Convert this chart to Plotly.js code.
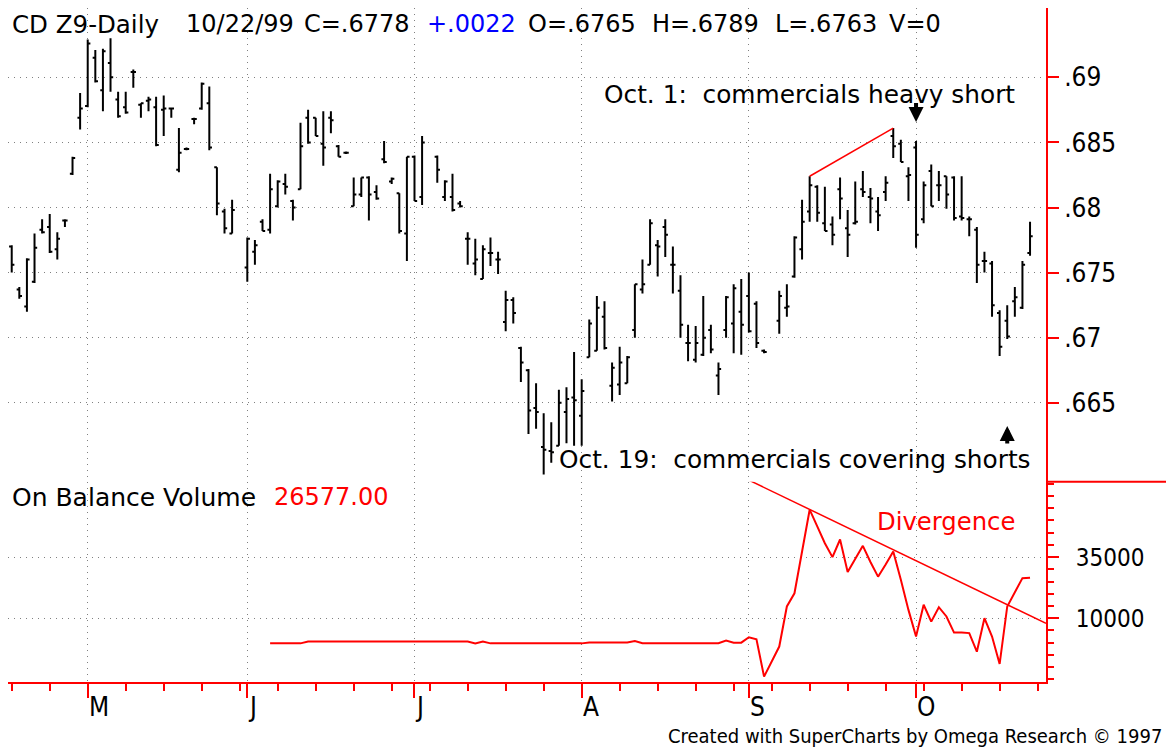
<!DOCTYPE html>
<html><head><meta charset="utf-8">
<script src="https://cdn.plot.ly/plotly-3.0.1.min.js"></script>
<style>html,body{margin:0;padding:0;background:#fff;overflow:hidden}#chart{width:1166px;height:749px}</style>
</head><body><div id="chart"></div>
<script>
// ---- data (one entry per weekday session slot, Apr 19 .. Oct 22 1999; null = holiday) ----
const openP = [.6770,.6737,.6724,.6743,.6783,.6785,.6768,.6790,.6826,.6869,
 .6878,.6915,.6890,.6911,.6883,.6877,.6904,.6879,.6882,.6877,
 .6875,.6876,.6829,.6845,.6868,.6876,.6880,.6831,.6797,.6780,
 null,.6754,.6766,.6789,.6783,.6801,.6818,.6805,.6814,.6869,
 .6869,.6849,.6869,.6847,.6842,.6801,.6810,.6823,.6812,.6837,
 .6820,.6811,.6780,.6839,.6808,null,.6839,.6808,.6808,.6803,
 .6776,.6757,.6745,.6765,.6760,.6712,.6729,.6692,.6675,.6646,
 .6616,.6613,.6617,.6643,.6654,.6640,.6685,.6690,.6716,.6663,
 .6664,.6665,.6706,.6737,.6756,.6771,.6785,.6756,.6736,.6696,
 .6683,.6687,.6706,.6671,.6706,.6711,.6720,.6732,.6726,.6690,
 null,.6713,.6723,.6747,.6768,.6797,.6816,.6788,.6787,.6814,
 .6784,.6788,.6814,.6808,.6797,.6812,.6855,.6849,.6824,.6846,
 .6791,.6828,.6817,.6824,.6823,.6793,.6791,.6783,.6759,.6757,
 .6719,.6713,.6728,.6723,.6765];
const highP = [.6771,.6739,.6761,.6780,.6791,.6795,.6781,.6791,.6839,.6888,
 .6929,.6921,.6922,.6930,.6889,.6889,.6906,.6880,.6885,.6885,
 .6886,.6876,.6861,.6846,.6869,.6896,.6893,.6831,.6799,.6806,
 null,.6777,.6775,.6791,.6826,.6821,.6826,.6806,.6865,.6875,
 .6869,.6874,.6874,.6848,.6843,.6823,.6823,.6824,.6817,.6851,
 .6823,.6811,.6839,.6840,.6855,null,.6840,.6821,.6826,.6805,
 .6781,.6776,.6771,.6777,.6766,.6736,.6731,.6693,.6676,.6665,
 .6642,.6635,.6660,.6662,.6689,.6668,.6714,.6732,.6728,.6681,
 .6693,.6686,.6741,.6760,.6791,.6775,.6791,.6770,.6748,.6710,
 .6709,.6732,.6710,.6681,.6732,.6741,.6745,.6750,.6728,.6691,
 null,.6736,.6741,.6778,.6806,.6824,.6817,.6816,.6793,.6823,
 .6798,.6820,.6828,.6815,.6808,.6824,.6861,.6852,.6831,.6851,
 .6820,.6833,.6828,.6824,.6824,.6824,.6793,.6785,.6766,.6759,
 .6721,.6725,.6739,.6759,.6789];
const lowP = [.6750,.6730,.6720,.6742,.6780,.6765,.6760,.6785,.6825,.6860,
 .6877,.6896,.6874,.6889,.6869,.6872,.6892,.6869,.6874,.6847,
 .6855,.6869,.6827,.6844,.6864,.6875,.6844,.6794,.6780,.6780,
 null,.6743,.6756,.6782,.6780,.6800,.6810,.6790,.6814,.6849,
 .6855,.6832,.6857,.6839,.6841,.6801,.6808,.6790,.6806,.6834,
 .6818,.6780,.6759,.6805,.6802,null,.6819,.6805,.6797,.6800,
 .6756,.6748,.6745,.6755,.6749,.6705,.6711,.6666,.6626,.6630,
 .6595,.6604,.6617,.6619,.6617,.6617,.6685,.6690,.6691,.6651,
 .6656,.6665,.6700,.6734,.6756,.6747,.6762,.6734,.6700,.6682,
 .6681,.6686,.6688,.6656,.6700,.6688,.6687,.6704,.6692,.6688,
 null,.6703,.6716,.6746,.6760,.6789,.6789,.6782,.6771,.6791,
 .6762,.6787,.6808,.6788,.6782,.6805,.6838,.6835,.6805,.6769,
 .6788,.6801,.6805,.6799,.6790,.6790,.6778,.6742,.6750,.6716,
 .6686,.6699,.6716,.6722,.6763];
const closeP = [.6756,.6732,.6760,.6769,.6781,.6766,.6776,.6790,.6838,.6876,
 .6926,.6897,.6920,.6900,.6870,.6873,.6904,.6880,.6883,.6848,
 .6876,.6876,.6842,.6845,.6868,.6895,.6846,.6803,.6784,.6798,
 null,.6776,.6771,.6782,.6814,.6820,.6816,.6800,.6847,.6850,
 .6855,.6846,.6867,.6839,.6842,.6810,.6823,.6810,.6807,.6835,
 .6822,.6782,.6839,.6805,.6850,null,.6829,.6820,.6798,.6801,
 .6776,.6760,.6768,.6765,.6760,.6729,.6719,.6681,.6644,.6643,
 .6614,.6612,.6650,.6653,.6652,.6659,.6711,.6723,.6692,.6677,
 .6681,.6685,.6741,.6741,.6788,.6770,.6779,.6756,.6710,.6696,
 .6696,.6700,.6691,.6676,.6731,.6738,.6710,.6705,.6696,.6689,
 null,.6732,.6724,.6777,.6789,.6817,.6796,.6782,.6779,.6807,
 .6779,.6789,.6812,.6807,.6794,.6819,.6847,.6835,.6825,.6779,
 .6817,.6801,.6817,.6810,.6792,.6792,.6791,.6756,.6759,.6725,
 .6693,.6701,.6731,.6756,.6778];
const obv = [null,null,null,null,null,null,null,null,null,null,
 null,null,null,null,null,null,null,null,null,null,
 null,null,null,null,null,null,null,null,null,null,
 null,null,null,null,-300,-300,-300,-300,-300,500,
 500,500,500,500,500,500,500,500,500,500,
 500,500,500,500,500,500,500,500,500,500,
 500,-300,500,-300,-300,-300,-300,-300,-300,-300,
 -300,-300,-300,-300,-300,-300,100,100,100,100,
 100,100,700,-200,-200,-200,-200,-200,-200,-200,
 -200,-200,-200,-200,850,0,0,2200,1400,-13900,
 null,-1600,14800,20200,36600,54400,47600,40700,35000,42200,
 28900,34000,39600,33000,27000,32000,37300,25700,13400,2500,
 15500,8600,14500,10700,4100,4100,3900,-3700,10000,2500,
 -8700,14800,20300,26400,26577];
const volume = 0;
// month starts (slot index) and their labels
const monthSlots = [10, 31, 53, 75, 97, 119];
const monthLabels = ['M', 'J', 'J', 'A', 'S', 'O'];
const priceTicks = [.665, .67, .675, .68, .685, .69];
const priceTickText = ['.665', '.67', '.675', '.68', '.685', '.69'];
const obvTicks = [10000, 35000];
const obvTickText = ['10000', '35000'];
// hand-drawn trend lines / markers
const priceTrendSlots = [105, 116];
const obvTrendSlots = [96.8, 136.1];
const obvTrendValues = [66800, 7900];
const heavyShortSlot = 119, coveringSlot = 131;

// ---- build ----
const W = 1166, H = 749;
const L = 8, R = 1046, T = 8.3, MID = 481.7, B = 682.3;
const fx = p => p / W, fy = p => 1 - p / H;
const slots = openP.map((_, i) => i);
const keep = slots.filter(i => openP[i] !== null);
const fmt = v => v.toFixed(4).replace(/^0/, '');
const last = openP.length - 1;
const change = closeP[last] - closeP[last - 1];

const RED = '#ff0000';
const narrow = 'Liberation Sans Narrow, Arial Narrow, DejaVu Sans Condensed, sans-serif';
const axisFont = {family: narrow, size: 26, color: '#000'};
const obvAxisFont = {family: narrow, size: 24, color: '#000'};
const txtFont = (size, color) => ({family: 'DejaVu Sans, Verdana, sans-serif', size: size, color: color || '#000'});
const grid = {showgrid: true, gridcolor: '#808080', griddash: '1px,5px', gridwidth: 1};

const traces = [
  {type: 'ohlc', x: keep, open: keep.map(i => openP[i]), high: keep.map(i => highP[i]),
   low: keep.map(i => lowP[i]), close: keep.map(i => closeP[i]), xaxis: 'x', yaxis: 'y',
   tickwidth: 0.35, increasing: {line: {color: '#000', width: 2}}, decreasing: {line: {color: '#000', width: 2}},
   hoverinfo: 'skip', showlegend: false},
  {type: 'scatter', mode: 'lines', x: priceTrendSlots, y: priceTrendSlots.map(i => highP[i]),
   xaxis: 'x', yaxis: 'y', line: {color: RED, width: 1.5}, hoverinfo: 'skip', showlegend: false},
  {type: 'scatter', mode: 'lines', x: slots, y: obv, connectgaps: true, xaxis: 'x', yaxis: 'y2',
   line: {color: RED, width: 2}, hoverinfo: 'skip', showlegend: false},
  {type: 'scatter', mode: 'lines', x: obvTrendSlots, y: obvTrendValues, xaxis: 'x', yaxis: 'y2',
   line: {color: RED, width: 1.5}, hoverinfo: 'skip', showlegend: false}
];

const ann = [];
const addText = (text, xpx, ypx, font, anchor) => ann.push({text: text, xref: 'paper', yref: 'paper',
  x: fx(xpx), y: fy(ypx), xanchor: anchor || 'left', yanchor: 'middle', showarrow: false, font: font});
// header line
addText('CD Z9-Daily', 10, 24, txtFont(24.5));
addText('10/22/99', 184, 24, txtFont(24));
addText('C=' + fmt(closeP[last]), 302, 24, txtFont(24));
addText('+' + fmt(change), 425, 24, txtFont(24, '#0000ff'));
addText('O=' + fmt(openP[last]), 526, 24, txtFont(24));
addText('H=' + fmt(highP[last]), 650, 24, txtFont(24));
addText('L=' + fmt(lowP[last]), 773, 24, txtFont(24));
addText('V=' + volume, 887, 24, txtFont(24));
addText('Oct. 1:\u00a0 commercials heavy short', 602, 95, txtFont(24.8));
addText('Oct. 19:\u00a0 commercials covering shorts', 557, 459, txtFont(24.8));
addText('On Balance Volume', 10, 497, txtFont(25));
addText(obv[last].toFixed(2), 272, 497, txtFont(24, RED));
addText('Divergence', 875, 521, txtFont(24.3, RED));
addText('Created with SuperCharts by Omega Research \u00a9 1997', 1164, 736,
  {family: narrow, size: 20, color: '#000'}, 'right');
// month labels
monthSlots.forEach((s, k) => ann.push({text: monthLabels[k], xref: 'x', yref: 'paper', x: s, y: fy(707),
  xanchor: 'left', yanchor: 'middle', xshift: -1, showarrow: false, font: axisFont}));
// arrows
ann.push({xref: 'x', yref: 'y', axref: 'x', ayref: 'y', x: heavyShortSlot, y: .68657, ax: heavyShortSlot, ay: .68815,
  showarrow: true, arrowhead: 2, arrowsize: 0.75, arrowwidth: 4, arrowcolor: '#000', text: ''});
ann.push({xref: 'x', yref: 'y', axref: 'x', ayref: 'y', x: coveringSlot, y: .66322, ax: coveringSlot, ay: .66175,
  showarrow: true, arrowhead: 2, arrowsize: 0.75, arrowwidth: 4, arrowcolor: '#000', text: ''});

const layout = {
  width: W, height: H, autosize: false, margin: {l: 0, r: 0, t: 0, b: 0, pad: 0},
  paper_bgcolor: '#fff', plot_bgcolor: '#fff', showlegend: false, hovermode: false,
  xaxis: Object.assign({domain: [fx(L), fx(R)], range: [-0.49, 136.1], anchor: 'y2',
    showline: true, linecolor: RED, linewidth: 2, ticks: 'outside', tickcolor: RED, ticklen: 14, tickwidth: 2,
    tickmode: 'array', tickvals: monthSlots, showticklabels: false, zeroline: false,
    rangeslider: {visible: false}, fixedrange: true,
    minor: {tickmode: 'linear', tick0: 0, dtick: 5, ticks: 'outside', ticklen: 7, tickcolor: RED, tickwidth: 2, showgrid: false}}, grid),
  yaxis: Object.assign({domain: [fy(MID), fy(T)], range: [.65894, .69530], anchor: 'x', side: 'right',
    showline: true, linecolor: RED, linewidth: 2, ticks: 'outside', tickcolor: RED, ticklen: 11, tickwidth: 2,
    tickmode: 'array', tickvals: priceTicks, ticktext: priceTickText, tickfont: axisFont, zeroline: false, fixedrange: true}, grid),
  yaxis2: Object.assign({domain: [fy(B), fy(MID)], range: [-16230, 65860], anchor: 'x', side: 'right',
    showline: true, linecolor: RED, linewidth: 2, ticks: 'outside', tickcolor: RED, ticklen: 11, tickwidth: 2,
    tickmode: 'array', tickvals: obvTicks, ticktext: obvTickText, tickfont: obvAxisFont, zeroline: false, fixedrange: true,
    ticklabelstandoff: 12,
    minor: {tickmode: 'linear', tick0: 0, dtick: 5000, ticks: 'outside', ticklen: 6, tickcolor: RED, tickwidth: 2, showgrid: false}}, grid),
  shapes: [{type: 'line', xref: 'paper', yref: 'paper', x0: fx(R), x1: 1, y0: fy(MID), y1: fy(MID),
    line: {color: RED, width: 2}}],
  annotations: ann
};
Plotly.newPlot('chart', traces, layout, {staticPlot: true, displayModeBar: false});
</script></body></html>
